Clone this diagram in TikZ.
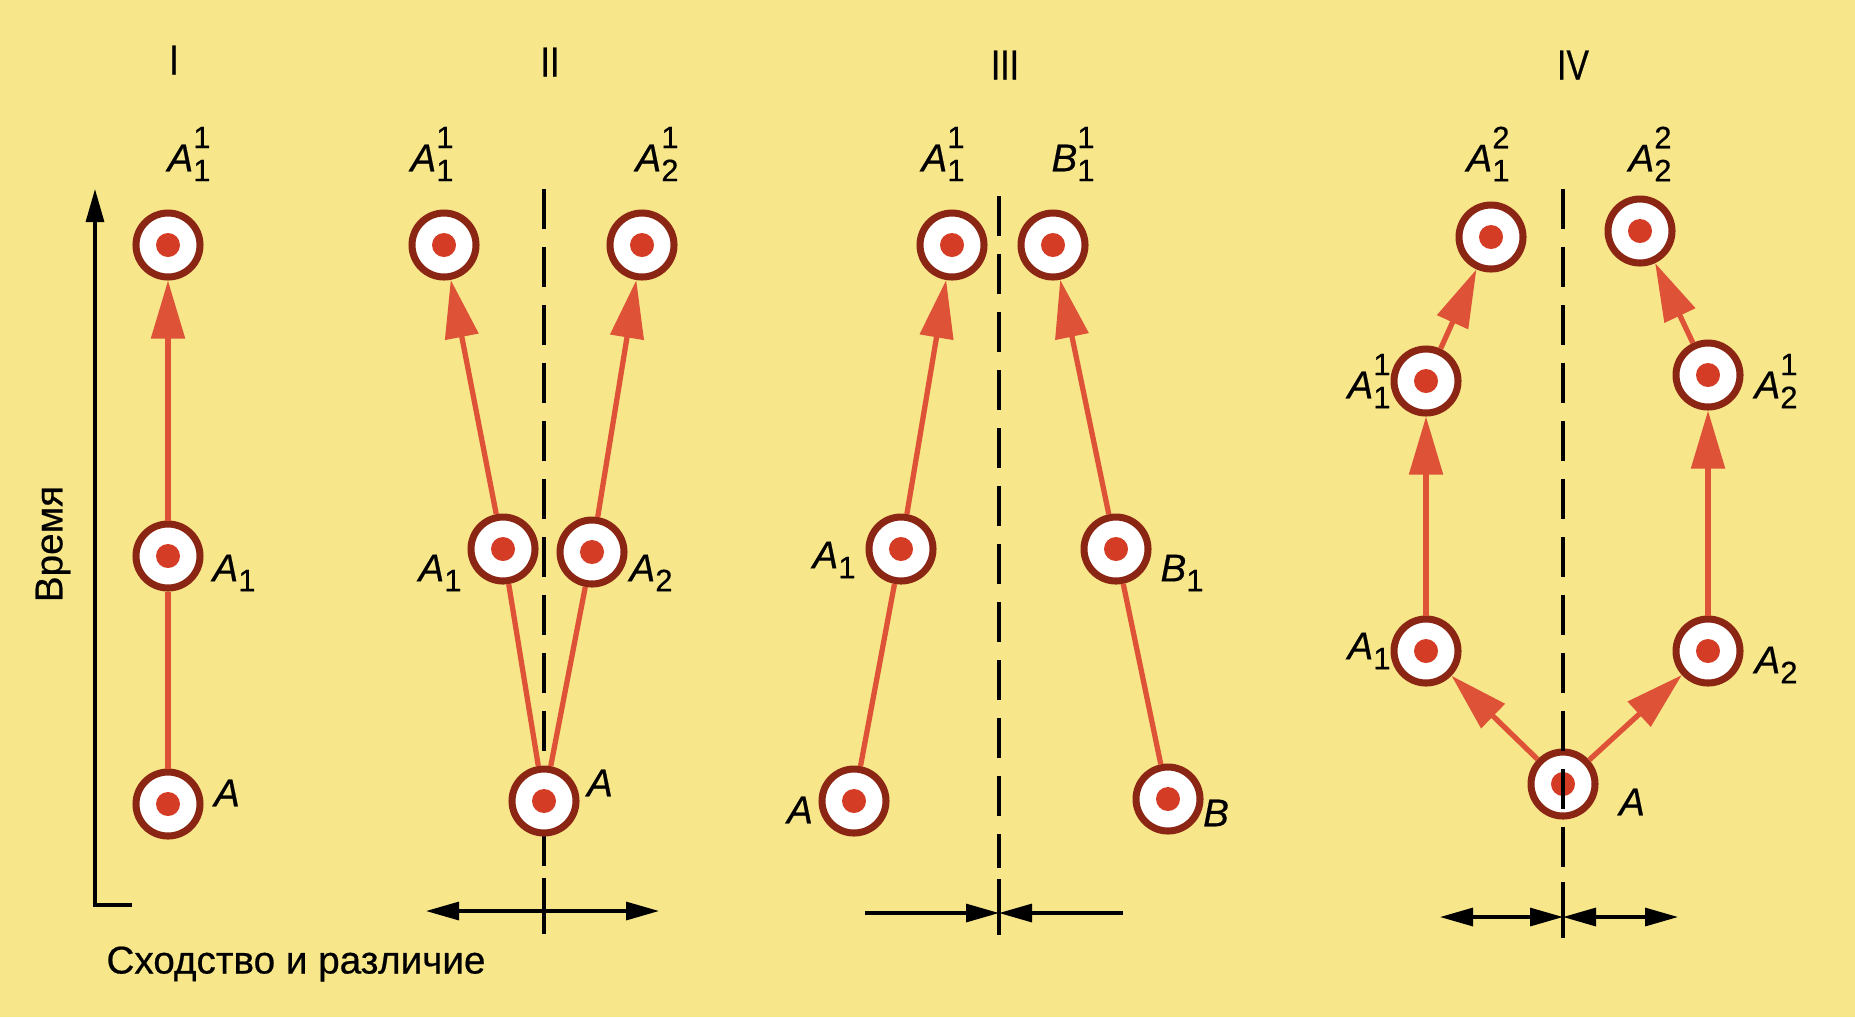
\documentclass[tikz,border=0pt]{standalone}
\usepackage{fontspec}
\setmainfont{Liberation Sans}
\newfontfamily\heavy{Liberation Sans}[FakeBold=0.5]
\usetikzlibrary{arrows.meta}
\definecolor{paper}{RGB}{247,230,138}
\definecolor{ring}{RGB}{140,38,20}
\definecolor{core}{RGB}{212,60,38}
\definecolor{trace}{RGB}{222,82,56}
% label with sub- and superscript, label with subscript only
\newcommand\dig[1]{\fontsize{8.8}{10}\selectfont #1}
\newcommand\lab[3]{\textit{#1}\rlap{\raisebox{6.6pt}{\dig{#3}}}\raisebox{-2.8pt}{\dig{#2}}}
\newcommand\labs[2]{\textit{#1}\raisebox{-2.8pt}{\dig{#2}}}
\tikzset{
  cell/.style   ={circle, draw=ring, line width=2pt, fill=white,
                  minimum size=6.4mm, inner sep=0pt,
                  path picture={\fill[core] (path picture bounding box.center) circle (1.2mm);}},
  tag/.style    ={font=\heavy\fontsize{11}{13}\selectfont, inner sep=1pt},
  numeral/.style={font=\heavy\fontsize{12}{14}\selectfont, inner sep=1pt},
  trail/.style  ={draw=trace, line width=1.5pt},
  lineage/.style={trail, -{Triangle[length=5.8mm, width=3.3mm]}},
  axis/.style   ={draw=black, line width=0.9pt},
  blk/.tip      ={Triangle[length=3.3mm, width=1.8mm]},
  split/.style  ={draw=black, line width=1.1pt, dash pattern=on 4mm off 1.8mm}
}
\begin{document}
\begin{tikzpicture}[x=0.1mm,y=-0.1mm]
\fill[paper] (0,0) rectangle (1855,1017);
\useasboundingbox (0,0) rectangle (1855,1017);

%% ---- Axes -----------------------------------------------------------
\coordinate (origin) at (95,905);
\coordinate (timeend) at (95,189);
\coordinate (simend) at (132,905);
\draw[axis, {blk}-] (timeend) -- (origin) -- (simend);
\node[tag, rotate=90] (time) at (53,544) {Время};
\node[tag] (sim) at (296,964) {Сходство и различие};

%% ---- I --------------------------------------------------------------
\node[numeral] (nI) at (174,60) {\scalebox{0.8}[1]{I}};
\node[cell] (Ia) at (168,804) {};
\node[cell] (Ia1) at (168,556) {};
\node[cell] (Ia11) at (168,245) {};
\draw[trail] (Ia) -- (Ia1);
\draw[lineage] (Ia1) -- (Ia11);
\node[tag] at (227,793) {\textit{A}};
\node[tag] at (234,573) {\labs{A}{1}};
\node[tag] at (189,154) {\lab{A}{1}{1}};

%% ---- II -------------------------------------------------------------
\node[numeral] (nII) at (550,62) {\scalebox{0.8}[1]{II}};
\coordinate (IIt) at (544,189);
\coordinate (IIm) at (544,866);
\coordinate (IIu) at (544,878);
\coordinate (IId) at (544,934);
\draw[split] (IIt) -- (IIm);
\draw[axis] (IIu) -- (IId);
\coordinate (IIl) at (426,911);
\coordinate (IIr) at (659,911);
\draw[axis, {blk}-{blk}] (IIl) -- (IIr);
\node[cell] (IIa) at (544,801) {};
\node[cell] (IIa1) at (503,549) {};
\node[cell] (IIa2) at (592,552) {};
\node[cell] (IIa11) at (444,245) {};
\node[cell] (IIa21) at (642,245) {};
\draw[trail] (IIa) -- (IIa1);
\draw[trail] (IIa) -- (IIa2);
\draw[lineage] (IIa1) -- (IIa11);
\draw[lineage] (IIa2) -- (IIa21);
\node[tag] at (600,783) {\textit{A}};
\node[tag] at (440,573) {\labs{A}{1}};
\node[tag] at (651,573) {\labs{A}{2}};
\node[tag] at (432,154) {\lab{A}{1}{1}};
\node[tag] at (657,154) {\lab{A}{2}{1}};

%% ---- III ------------------------------------------------------------
\node[numeral] (nIII) at (1005,65) {\scalebox{0.8}[1]{III}};
\coordinate (IIIt) at (999,196);
\coordinate (IIIm) at (999,868);
\coordinate (IIIu) at (999,879);
\coordinate (IIId) at (999,935);
\coordinate (IIIc) at (999,913);
\draw[split] (IIIt) -- (IIIm);
\draw[axis] (IIIu) -- (IIId);
\coordinate (IIIl) at (865,913);
\coordinate (IIIr) at (1123,913);
\draw[axis, -{blk}] (IIIl) -- (IIIc);
\draw[axis, -{blk}] (IIIr) -- (IIIc);
\node[cell] (IIIa) at (854,801) {};
\node[cell] (IIIa1) at (901,549) {};
\node[cell] (IIIa11) at (952,245) {};
\node[cell] (IIIb) at (1168,799) {};
\node[cell] (IIIb1) at (1116,549) {};
\node[cell] (IIIb11) at (1053,245) {};
\draw[trail] (IIIa) -- (IIIa1);
\draw[lineage] (IIIa1) -- (IIIa11);
\draw[trail] (IIIb) -- (IIIb1);
\draw[lineage] (IIIb1) -- (IIIb11);
\node[tag] at (800,810) {\textit{A}};
\node[tag] at (1216,813) {\textit{B}};
\node[tag] at (834,560) {\labs{A}{1}};
\node[tag] at (1182,573) {\labs{B}{1}};
\node[tag] at (943,154) {\lab{A}{1}{1}};
\node[tag] at (1073,154) {\lab{B}{1}{1}};

%% ---- IV -------------------------------------------------------------
\node[numeral] (nIV) at (1573,65) {\scalebox{0.8}[1]{IV}};
\node[cell] (IVa) at (1563,784) {};
\node[cell] (IVa1) at (1426,651) {};
\node[cell] (IVa2) at (1708,651) {};
\node[cell] (IVa11) at (1426,381) {};
\node[cell] (IVa21) at (1708,375) {};
\node[cell] (IVa12) at (1491,237) {};
\node[cell] (IVa22) at (1640,231) {};
\draw[lineage] (IVa) -- (IVa1);
\draw[lineage] (IVa) -- (IVa2);
\draw[lineage] (IVa1) -- (IVa11);
\draw[lineage] (IVa2) -- (IVa21);
\draw[lineage] (IVa11) -- (IVa12);
\draw[lineage] (IVa21) -- (IVa22);
\coordinate (IVt) at (1563,189);
\coordinate (IVm) at (1563,870);
\coordinate (IVu) at (1563,882);
\coordinate (IVd) at (1563,938);
\coordinate (IVc) at (1563,917);
\draw[split] (IVt) -- (IVm);
\draw[axis] (IVu) -- (IVd);
\coordinate (IVl) at (1440,917);
\coordinate (IVr) at (1678,917);
\draw[axis, {blk}-{blk}] (IVl) -- (IVc);
\draw[axis, {blk}-{blk}] (IVr) -- (IVc);
\node[tag] at (1632,802) {\textit{A}};
\node[tag] at (1369,651) {\labs{A}{1}};
\node[tag] at (1776,665) {\labs{A}{2}};
\node[tag] at (1369,381) {\lab{A}{1}{1}};
\node[tag] at (1776,381) {\lab{A}{2}{1}};
\node[tag] at (1488,154) {\lab{A}{1}{2}};
\node[tag] at (1650,154) {\lab{A}{2}{2}};
\end{tikzpicture}
\end{document}
